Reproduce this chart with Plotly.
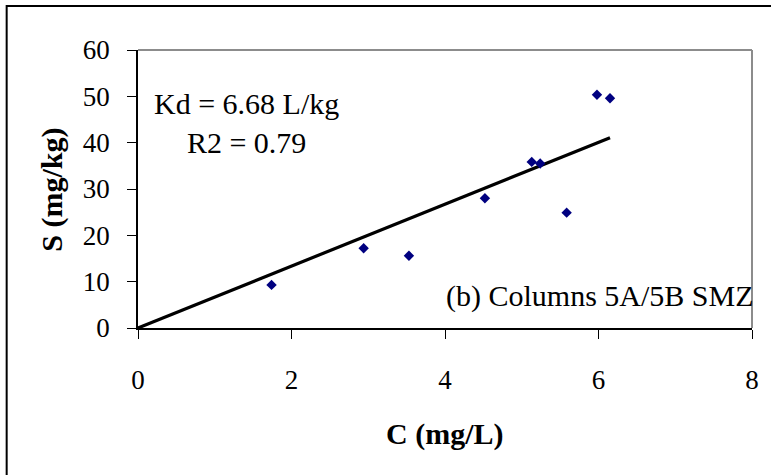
import plotly.graph_objects as go

# Data
c_mg_per_l = [1.74, 2.94, 3.53, 4.52, 5.13, 5.24, 5.585, 5.98, 6.15]
s_mg_per_kg = [9.3, 17.2, 15.6, 28.0, 35.85, 35.5, 24.9, 50.35, 49.6]
kd = 6.68
r2 = 0.79
x_ticks = [0, 2, 4, 6, 8]
y_ticks = [0, 10, 20, 30, 40, 50, 60]

FONT = "Liberation Serif, Times New Roman, serif"

fit_x = [0, max(c_mg_per_l)]
fit_y = [kd * v for v in fit_x]

fig = go.Figure()
fig.add_trace(go.Scatter(
    x=fit_x, y=fit_y, mode="lines",
    line=dict(color="black", width=3.2), showlegend=False, hoverinfo="skip"))
fig.add_trace(go.Scatter(
    x=c_mg_per_l, y=s_mg_per_kg, mode="markers",
    marker=dict(symbol="diamond", size=8, color="#000080"),
    showlegend=False))

fig.update_layout(
    width=771, height=475,
    margin=dict(l=138, r=16, t=50, b=147),
    paper_bgcolor="white", plot_bgcolor="white",
    font=dict(family=FONT, color="black", size=27),
    xaxis=dict(range=[0, 8], tickvals=x_ticks, showgrid=False, zeroline=False,
               showline=True, linecolor="black", linewidth=1.5,
               ticks="outside", ticklen=9, tickcolor="black", tickwidth=1,
               ticklabelstandoff=18, tickfont=dict(size=27)),
    yaxis=dict(range=[0, 60], tickvals=y_ticks, showgrid=False, zeroline=False,
               showline=True, linecolor="black", linewidth=1.5,
               ticks="outside", ticklen=9, tickcolor="black", tickwidth=1,
               ticklabelstandoff=12, tickfont=dict(size=27)),
    shapes=[
        dict(type="rect", xref="paper", yref="paper", x0=-0.2139, x1=1.2, y0=-1.0, y1=1.158,
             line=dict(color="black", width=2), fillcolor="rgba(0,0,0,0)", layer="below"),
        dict(type="line", xref="paper", yref="paper", x0=0, x1=1, y0=1, y1=1,
             line=dict(color="#8c8c8c", width=2)),
        dict(type="line", xref="paper", yref="paper", x0=1, x1=1, y0=0, y1=1,
             line=dict(color="#8c8c8c", width=2)),
    ],
    annotations=[
        dict(text=f"Kd = {kd} L/kg<br>R2 = {r2}", xref="paper", yref="paper",
             x=0.1775, y=0.738, xanchor="center", yanchor="middle", showarrow=False,
             align="center", font=dict(size=30)),
        dict(text="(b) Columns 5A/5B SMZ", xref="paper", yref="paper",
             x=1.006, y=0.116, xanchor="right", yanchor="middle", showarrow=False,
             font=dict(size=30)),
        dict(text="<b>C (mg/L)</b>", xref="paper", yref="paper",
             x=0.499, y=-0.38, xanchor="center", yanchor="middle", showarrow=False,
             font=dict(size=30)),
        dict(text="<b>S (mg/kg)</b>", xref="paper", yref="paper",
             x=-0.1402, y=0.497, xanchor="center", yanchor="middle", showarrow=False,
             textangle=-90, font=dict(size=30)),
    ],
)

fig.write_html("out.html", config={"displayModeBar": False},
               post_script="document.body.style.margin='0px';")
